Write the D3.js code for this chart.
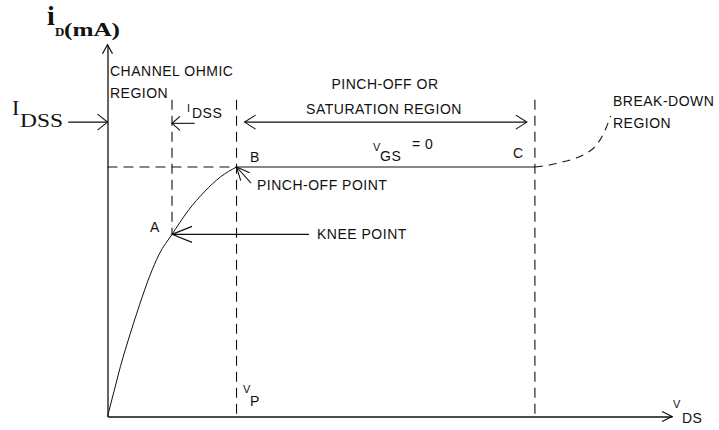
<!DOCTYPE html>
<html><head><meta charset="utf-8">
<script src="https://cdn.jsdelivr.net/npm/d3@7"></script>
<style>html,body{margin:0;padding:0;background:#fff;}svg{display:block;}</style>
</head><body>
<script>
// ---- data (VDS in V, iD in mA) ----
const vdsCurve = [0, 0.2, 0.4, 0.7, 1.0, 1.3, 1.6, 2.0, 2.5, 3.0, 3.5, 4.0];
const idCurve  = [0, 1.0, 2.0, 3.3, 4.5, 5.6, 6.5, 7.3, 8.25, 9.0, 9.6, 10];
const vdsSat = [4, 13.25];
const idSat  = [10, 10];
const vdsBreak = [13.25, 13.7, 14.1, 14.5, 14.85, 15.1, 15.3, 15.45, 15.6];
const idBreak  = [10, 10.08, 10.2, 10.35, 10.55, 10.8, 11.15, 11.55, 12.05];
const pointNames = ["A", "B", "C"];
const pointVds = [2, 4, 13.25];
const pointId  = [7.3, 10, 10];
const IDSS = 10, VP = 4, vdsMax = 17.5, idMax = 14.9, guideTop = 12.7, arrowLevel = 11.8;

const W = 719, H = 430;
const x = d3.scaleLinear().domain([0, vdsMax]).range([107.5, 672]);
const y = d3.scaleLinear().domain([0, IDSS]).range([416.5, 167]);

const svg = d3.select("body").append("svg").attr("width", W).attr("height", H)
  .style("font-family", "'Liberation Sans', Arial, sans-serif");

const ink = "#111";
// axes via d3 axis (no ticks)
const xAxis = d3.axisBottom(x).tickValues([]).tickSizeOuter(0);
const yAxis = d3.axisLeft(y.copy().domain([0, idMax]).range([y(0), y(idMax)])).tickValues([]).tickSizeOuter(0);
svg.append("g").attr("transform", `translate(0,${y(0)})`).call(xAxis)
  .select(".domain").attr("stroke", ink).attr("stroke-width", 1.3);
svg.append("g").attr("transform", `translate(${x(0)},0)`).call(yAxis)
  .select(".domain").attr("stroke", ink).attr("stroke-width", 1.3);

function head(tx, ty, fx, fy, L, w) {
  const dx = tx - fx, dy = ty - fy, d = Math.hypot(dx, dy), ux = dx / d, uy = dy / d;
  const bx = tx - ux * L, by = ty - uy * L, nx = -uy, ny = ux;
  return `M${bx + nx * w},${by + ny * w}L${tx},${ty}L${bx - nx * w},${by - ny * w}`;
}
function arrow(fx, fy, tx, ty, L, w, both) {
  const g = svg.append("g").attr("fill", "none").attr("stroke", ink).attr("stroke-width", 1.1);
  g.append("path").attr("d", `M${fx},${fy}L${tx},${ty}`);
  g.append("path").attr("d", head(tx, ty, fx, fy, L, w));
  if (both) g.append("path").attr("d", head(fx, fy, tx, ty, L, w));
}
// axis arrowheads
svg.append("path").attr("d", head(x(vdsMax), y(0), x(0), y(0), 10, 5)).attr("fill", "none").attr("stroke", ink).attr("stroke-width", 1.2);
svg.append("path").attr("d", head(x(0), y(idMax), x(0), y(0), 9, 5)).attr("fill", "none").attr("stroke", ink).attr("stroke-width", 1.2);

// dashed guides
const dash = "10,6";
const guides = svg.append("g").attr("stroke", ink).attr("stroke-width", 1.1).attr("stroke-dasharray", dash);
guides.append("line").attr("x1", x(0)).attr("x2", x(VP)).attr("y1", y(IDSS)).attr("y2", y(IDSS));
guides.append("line").attr("x1", x(pointVds[0])).attr("x2", x(pointVds[0])).attr("y1", y(guideTop)).attr("y2", y(pointId[0]));
guides.append("line").attr("x1", x(VP)).attr("x2", x(VP)).attr("y1", y(guideTop)).attr("y2", y(0));
guides.append("line").attr("x1", x(pointVds[2])).attr("x2", x(pointVds[2])).attr("y1", y(guideTop)).attr("y2", y(0));

// characteristic curve
const line = d3.line().x(d => x(d[0])).y(d => y(d[1]));
svg.append("path").datum(vdsCurve.map((v, i) => [v, idCurve[i]]))
  .attr("d", line.curve(d3.curveMonotoneX)).attr("fill", "none").attr("stroke", ink).attr("stroke-width", 1);
svg.append("path").datum(vdsSat.map((v, i) => [v, idSat[i]]))
  .attr("d", d3.line().x(d => x(d[0])).y(d => y(d[1]))).attr("fill", "none").attr("stroke", ink).attr("stroke-width", 1.2);
svg.append("path").datum(vdsBreak.map((v, i) => [v, idBreak[i]]))
  .attr("d", d3.line().x(d => x(d[0])).y(d => y(d[1])).curve(d3.curveMonotoneX))
  .attr("fill", "none").attr("stroke", ink).attr("stroke-width", 1.1).attr("stroke-dasharray", "8,6");

// annotation arrows
arrow(x(-1.22), y(arrowLevel), x(0), y(arrowLevel), 10, 8);
arrow(x(2.7), y(11.75), x(pointVds[0]), y(11.75), 8, 7);
arrow(x(4.25), y(arrowLevel), x(13.0), y(arrowLevel), 11, 7, true);
arrow(x(6.25), y(pointId[0]), x(pointVds[0]), y(pointId[0]), 20, 8);
arrow(x(4.45), y(9.35), x(pointVds[1]), y(pointId[1]), 13, 6);

// text
function txt(s, px, py, size, extra) {
  const t = svg.append("text").attr("x", px).attr("y", py).attr("font-size", size).attr("fill", ink)
    .attr("letter-spacing", size >= 14 ? 0.5 : 0.3).text(s);
  if (extra) extra(t);
  return t;
}
const serif = "'Liberation Serif', 'Times New Roman', serif";
// title
txt("i", 47, 25, 28, t => t.attr("font-family", serif).attr("font-weight", "bold").attr("letter-spacing", 0));
txt("D", 55, 36, 13, t => t.attr("font-family", serif).attr("font-weight", "bold").attr("letter-spacing", 0));
txt("(mA)", 64, 36, 18, t => t.attr("font-family", serif).attr("font-weight", "bold").attr("letter-spacing", 0)
  .attr("textLength", 56).attr("lengthAdjust", "spacingAndGlyphs"));
// IDSS left
txt("I", 12, 115, 22, t => t.attr("font-family", serif).attr("letter-spacing", 0));
txt("DSS", 20, 127, 18, t => t.attr("font-family", serif).attr("letter-spacing", 0).attr("textLength", 43).attr("lengthAdjust", "spacingAndGlyphs"));

txt("CHANNEL OHMIC", 110, 76, 14);
txt("REGION", 110, 98, 14);
txt("I", 187, 112, 11);
txt("DSS", 192, 118, 14);
txt("PINCH-OFF OR", 385, 89, 14, t => t.attr("text-anchor", "middle"));
txt("SATURATION REGION", 384, 114, 14, t => t.attr("text-anchor", "middle"));
txt(pointNames[1], 250, 162, 14);
txt(pointNames[0], 150, 232, 14);
txt(pointNames[2], 513, 158, 14);
txt("V", 373, 151, 11);
txt("GS", 380, 161, 14);
txt("= 0", 412, 149, 14);
txt("PINCH-OFF POINT", 257, 190, 14);
txt("KNEE POINT", 317, 239, 14);
txt("BREAK-DOWN", 613, 106, 14);
txt("REGION", 613, 128, 14);
txt("V", 243, 393, 11);
txt("P", 250, 406, 14);
txt("V", 673, 408, 11);
txt("DS", 682, 423, 14);
</script>
</body></html>
